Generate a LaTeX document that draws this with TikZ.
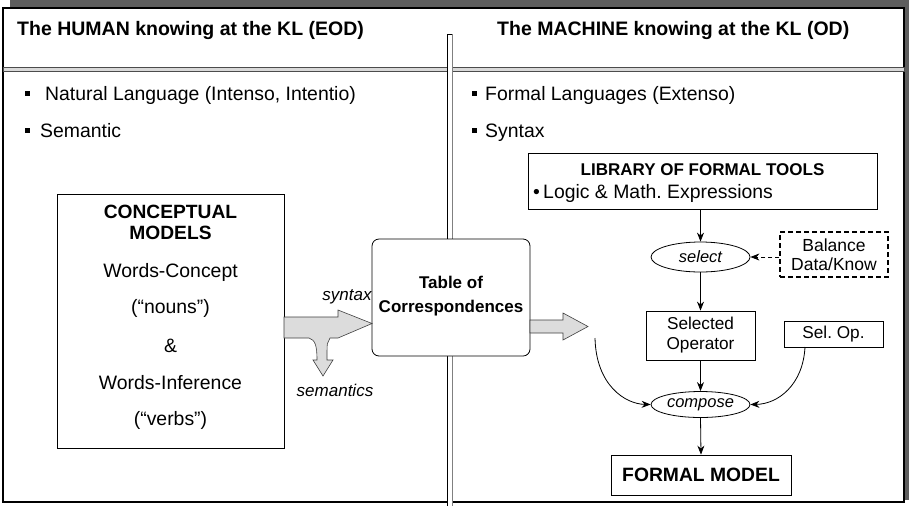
\documentclass[tikz,border=0pt]{standalone}
\usepackage{fontspec}
\setmainfont{Liberation Sans}
\usetikzlibrary{arrows.meta,shapes.geometric}
\definecolor{shadowgray}{HTML}{5E5E5E}
\definecolor{arrowfill}{HTML}{DCDCDC}
\frenchspacing
\begin{document}
\begin{tikzpicture}[x=1pt,y=-1pt,
  titlef/.style={font=\fontsize{19.5}{22}\selectfont\bfseries, inner sep=0pt},
  big/.style={font=\fontsize{19.4}{22}\selectfont, inner sep=0pt},
  bigb/.style={font=\fontsize{19.2}{22}\selectfont\bfseries, inner sep=0pt},
  mid/.style={font=\fontsize{17.2}{20}\selectfont, inner sep=0pt},
  midb/.style={font=\fontsize{17}{20}\selectfont\bfseries, inner sep=0pt},
  lab/.style={font=\fontsize{17}{20}\selectfont\itshape, inner sep=0pt},
  box/.style={draw, line width=0.8pt, inner sep=0pt},
  ell/.style={ellipse, draw, line width=0.8pt, inner sep=0pt, font=\fontsize{16.5}{20}\selectfont\itshape},
  conn/.style={line width=0.8pt, -{Stealth[length=9pt,width=7pt]}},
  blockarrow/.style={fill=arrowfill, draw=black!75, line width=0.6pt},
  sq/.style={fill=black, minimum size=5pt, inner sep=0pt}
]
\useasboundingbox (0,0) rectangle (909,507);
% frame and shadow
\fill[shadowgray] (10,0) rectangle (909,500);
\draw[fill=white, line width=1.6pt] (3,8) rectangle (904,502);
% separators
\draw[fill=gray!30, draw=gray!60!black, line width=0.9pt] (3,67) rectangle (904,71.5);
\fill[white] (447,34) rectangle (452,506);
\draw[line width=0.9pt] (447,506) -- (447,34) -- (452,34);
\draw[gray, line width=0.9pt] (452,34) -- (452,506);
% titles
\node[titlef, anchor=base west] (t1) at (17,35) {The HUMAN knowing at the KL (EOD)};
\node[titlef, anchor=base west] (t2) at (497,35) {The MACHINE knowing at the KL (OD)};
% bullets
\node[sq] (b1) at (27.5,93.5) {};
\node[big, anchor=base west] (l1) at (45,100) {Natural Language (Intenso, Intentio)};
\node[sq] (b2) at (27.5,130.5) {};
\node[big, anchor=base west] (l2) at (40,137) {Semantic};
\node[sq] (b3) at (474.5,93.5) {};
\node[big, anchor=base west] (r1) at (485,100) {Formal Languages (Extenso)};
\node[sq] (b4) at (474.5,130.5) {};
\node[big, anchor=base west] (r2) at (485,137) {Syntax};
% library
\node[box, minimum width=349pt, minimum height=56pt] (lib) at (702.5,181) {};
\node[midb, anchor=base] (libt) at (702.5,175) {LIBRARY OF FORMAL TOOLS};
\node[big, anchor=base west] (libl) at (533,198) {\textbullet\,Logic \& Math. Expressions};
% select
\node[ell, minimum width=99pt, minimum height=30pt] (sel) at (700.5,257) {select};
\node[box, dashed, dash pattern=on 5pt off 3pt, line width=1.3pt, minimum width=108pt, minimum height=45pt, align=center, font=\fontsize{17.5}{18.5}\selectfont] (bal) at (834,254.5) {Balance\\Data/Know};
% operators
\node[box, minimum width=109pt, minimum height=49pt, align=center, font=\fontsize{17.2}{20}\selectfont] (so) at (700.5,335.5) {Selected\\Operator};
\node[box, minimum width=99pt, minimum height=26pt, font=\fontsize{17.2}{20}\selectfont] (sop) at (833.5,334) {Sel. Op.};
\node[ell, minimum width=99pt, minimum height=26pt] (comp) at (700.5,404.5) {compose};
\node[box, minimum width=180pt, minimum height=40pt, font=\fontsize{19.3}{22}\selectfont\bfseries] (fm) at (701,475) {FORMAL MODEL};
% connectors
\draw[conn] (lib.south -| sel.north) -- (sel.north);
\draw[conn, dashed, dash pattern=on 4pt off 3pt] (bal.west |- sel.east) -- (sel.east);
\draw[conn] (sel.south) -- (so.north);
\draw[conn] (so.south) -- (comp.north);
\draw[conn] (comp.south) -- (fm.north);
\coordinate (cs) at (595,338);
\draw[conn] (cs) .. controls (596,385) and (625,404) .. (comp.west);
\coordinate (ce) at (805,347);
\draw[conn] (ce) .. controls (803,385) and (778,404) .. (comp.east);
% left side
\node[box, minimum width=227pt, minimum height=254pt] (cm) at (170.5,321) {};
\node[bigb] (cm1) at (170.5,212) {CONCEPTUAL};
\node[bigb] (cm2) at (170.5,233) {MODELS};
\node[big] (cm3) at (170.5,272) {Words-Concept};
\node[big] (cm4) at (170.5,308) {(“nouns”)};
\node[big] (cm5) at (170.5,346) {\&};
\node[big] (cm6) at (170.5,383) {Words-Inference};
\node[big] (cm7) at (170.5,420) {(“verbs”)};
% table
\node[box, fill=white, rounded corners=7pt, minimum width=158pt, minimum height=117pt] (tab) at (451,297.5) {};
\node[midb] (tab1) at (451,282) {Table of};
\node[midb] (tab2) at (451,308) {Correspondences};
% block arrows
\draw[blockarrow] (284,317) -- (338,317) -- (338,310) -- (372,323.5) -- (338,338) -- (330,338)
  .. controls (327,342) .. (327,360) -- (333,360) -- (323,376) -- (313,360) -- (317,360)
  .. controls (317,345) and (315,340) .. (309,338) -- (284,338) -- cycle;
\draw[blockarrow] (530,320) -- (563,320) -- (563,313) -- (588,326.5) -- (563,340) -- (563,333) -- (530,333) -- cycle;
\node[lab] (syn) at (347,297) {syntax};
\node[lab] (sem) at (335,390) {semantics};
\end{tikzpicture}
\end{document}
